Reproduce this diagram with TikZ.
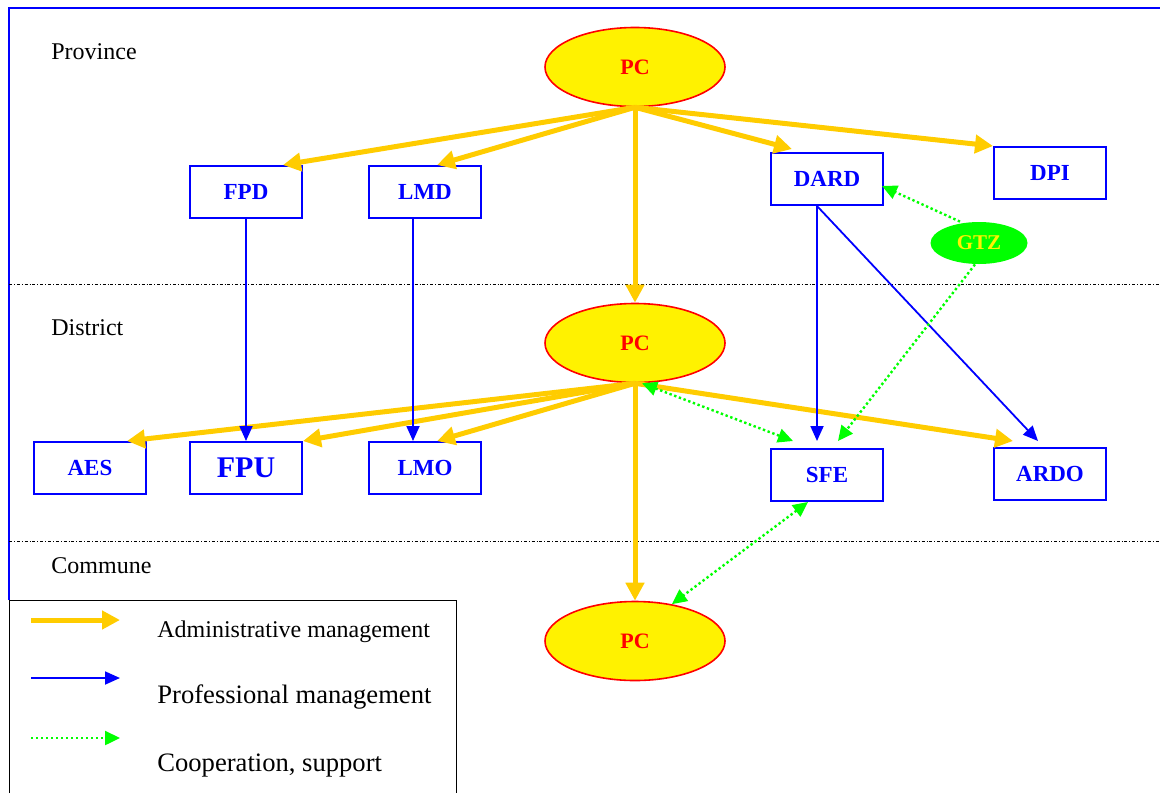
\documentclass[tikz,border=0pt]{standalone}
\usepackage{fontspec}
\setmainfont{Liberation Serif}
\usetikzlibrary{positioning,shapes.geometric,arrows.meta}
\definecolor{admin}{HTML}{FFCC00}
\definecolor{prof}{HTML}{0000FF}
\definecolor{coop}{HTML}{00FF00}

\begin{document}
\begin{tikzpicture}[x=0.5pt,y=-0.5pt,on grid,
pc/.style ={ellipse ,draw=red ,line width=0.8pt ,fill=yellow ,text=red ,
  font=\fontsize{11}{13}\selectfont\bfseries ,
  minimum width=90pt ,minimum height=39.5pt ,inner sep=0pt},
office/.style={rectangle ,draw=prof ,line width=1pt ,text=prof ,
  font=\fontsize{11.5}{14}\selectfont\bfseries ,
  minimum width=56pt ,minimum height=26pt ,inner sep=0pt},
donor/.style={ellipse ,fill=coop ,text=yellow ,
  font=\fontsize{10.5}{12}\selectfont\bfseries ,
  minimum width=48.5pt ,minimum height=21pt ,inner sep=0pt},
adm/.style={draw=admin ,line width=2.5pt ,-{Triangle[length=9pt,width=9pt]}},
pro/.style={draw=prof ,line width=0.9pt ,-{Triangle[length=7.5pt,width=6.5pt]}},
coo/.style={draw=coop ,line width=1.2pt ,dash pattern=on 1.2pt off 1.3pt ,
  -{Triangle[length=7.5pt,width=7pt]}},
coo2/.style={coo ,{Triangle[length=7.5pt,width=7pt]}-{Triangle[length=7.5pt,width=7pt]}},
level/.style={anchor=base west ,inner sep=0pt ,font=\fontsize{12}{14}\selectfont},
key/.style={level ,font=\fontsize{13.3}{15}\selectfont},
divider/.style={thin ,dash pattern=on 1.5pt off 1pt on 0.4pt off 1pt}
]
\useasboundingbox (0,0) rectangle (1160,793);

% frame and levels
\draw[prof ,line width=1pt] (9,600) -- (9,8) -- (1160,8);
\draw[divider] (9,284) -- (1160,284);
\draw[divider] (9,541) -- (1160,541);
\node[level] (Lprov) at (51,59) {Province};
\node[level] (Ldist) at (51,335) {District};
\node[level] (Lcomm) at (51,573) {Commune};

% people's committees
\node[pc] (PCp) at (635,67) {PC};
\node[pc] (PCd) [below = 138pt of PCp] {PC};
\node[pc] (PCc) [below = 149pt of PCd] {PC};

% province departments
\node[office] (FPD) [below left = 62.5pt and 194.5pt of PCp] {FPD};
\node[office] (LMD) [right = 89.5pt of FPD] {LMD};
\node[office] (DARD) [below right = 56pt and 96pt of PCp] {DARD};
\node[office] (DPI) [above right = 3pt and 111.5pt of DARD] {DPI};
\node[donor] (GTZ) [below right = 32pt and 76pt of DARD] {GTZ};

% district offices
\node[office] (FPU) [below = 138pt of FPD ,font=\fontsize{15}{18}\selectfont\bfseries] {FPU};
\node[office] (AES) [left = 78pt of FPU] {AES};
\node[office] (LMO) [below = 138pt of LMD] {LMO};
\node[office] (SFE) [below = 148pt of DARD] {SFE};
\node[office] (ARDO) [below = 150.5pt of DPI] {ARDO};

% administrative management
\draw[adm] (PCp.south) -- ([xshift=-10pt]FPD.north east);
\draw[adm] (PCp.south) -- ([xshift=6pt]LMD.north);
\draw[adm] (PCp.south) -- ([xshift=11pt,yshift=1.5pt]DARD.north west);
\draw[adm] (PCp.south) -- (DPI.north west);
\draw[adm] (PCp.south) -- (PCd.north);
\draw[adm] (PCd.south) -- ([xshift=-10pt]AES.north east);
\draw[adm] (PCd.south) -- (FPU.north east);
\draw[adm] (PCd.south) -- ([xshift=6pt]LMO.north);
\draw[adm] (PCd.south) -- ([xshift=10pt,yshift=3pt]ARDO.north west);
\draw[adm] (PCd.south) -- (PCc.north);

% professional management
\draw[pro] (FPD.south) -- (FPU.north);
\draw[pro] ([xshift=-6pt]LMD.south) -- ([xshift=-6pt]LMO.north);
\draw[pro] ([xshift=-5pt]DARD.south) -- ([xshift=-5pt,yshift=3.5pt]SFE.north);
\draw[pro] ([xshift=-5pt]DARD.south) -- ([xshift=-6pt,yshift=3pt]ARDO.north);

% cooperation, support
\draw[coo] ([xshift=-9.5pt]GTZ.north) -- ([xshift=-1pt,yshift=-3.5pt]DARD.east);
\draw[coo] ([xshift=-2pt]GTZ.south) -- ([xshift=5.5pt,yshift=3.5pt]SFE.north);
\draw[coo2] ([xshift=3.5pt]PCd.south) -- ([xshift=-17pt,yshift=3.5pt]SFE.north);
\draw[coo2] ([xshift=-9.5pt]SFE.south) -- (PCc.45);

% legend
\draw[line width=0.5pt] (9,793) -- (9,600) -- (456,600) -- (456,793);
\coordinate (Ladm1) at (31,620);
\coordinate (Ladm2) at (120,620);
\coordinate (Lpro1) at (31,678);
\coordinate (Lpro2) at (120,678);
\coordinate (Lcoo1) at (31,738);
\coordinate (Lcoo2) at (120,738);
\draw[adm] (Ladm1) -- (Ladm2);
\draw[pro] (Lpro1) -- (Lpro2);
\draw[coo] (Lcoo1) -- (Lcoo2);
\node[level] (Tadm) at (157,637) {Administrative management};
\node[key] (Tpro) at (157,703) {Professional management};
\node[key] (Tcoo) at (157,771) {Cooperation, support};
\end{tikzpicture}
\end{document}
